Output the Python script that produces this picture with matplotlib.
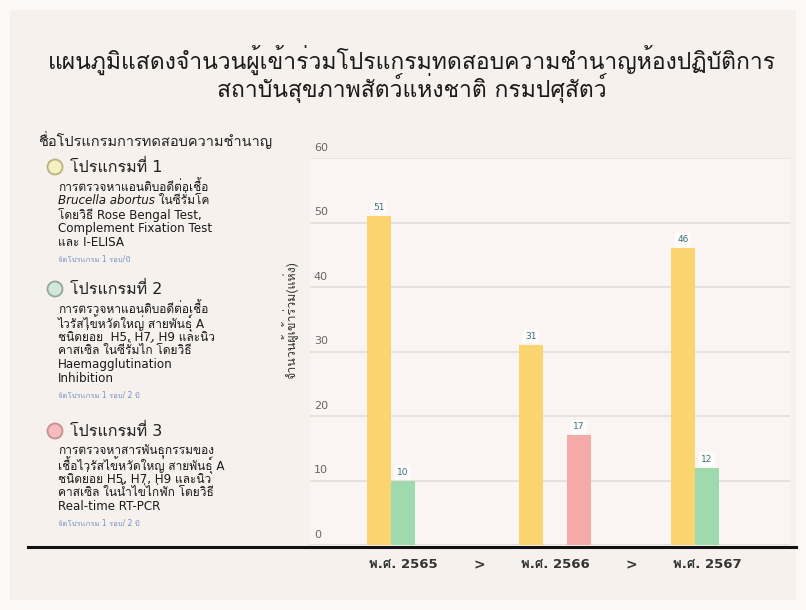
import matplotlib
matplotlib.use("Agg")
import matplotlib.pyplot as plt
import numpy as np
from matplotlib import font_manager
from matplotlib.ft2font import FT2Font
from matplotlib.patches import Circle, Rectangle
from matplotlib.lines import Line2D

# หา font ที่มีอักษรไทย
thai_font = None
for f in font_manager.fontManager.ttflist:
    try:
        if 0x0E01 in FT2Font(f.fname).get_charmap():
            thai_font = f.name
            break
    except Exception:
        pass
thai_first = ([thai_font] if thai_font else []) + ["DejaVu Sans"]
latin_first = ["DejaVu Sans"] + ([thai_font] if thai_font else [])
plt.rcParams["font.family"] = latin_first

# ข้อมูล
years = ["พ.ศ. 2565", "พ.ศ. 2566", "พ.ศ. 2567"]
program1 = [51, 31, 46]
program2 = [10, 0, 12]
program3 = [0, 17, 0]
y_ticks = [0, 10, 20, 30, 40, 50, 60]

prog_titles = ["โปรแกรมที่ 1", "โปรแกรมที่ 2", "โปรแกรมที่ 3"]
prog_desc = [
    ["การตรวจหาแอนติบอดีต่อเชื้อ",
     ("Brucella abortus", " ในซีรั่มโค"),
     "โดยวิธี Rose Bengal Test,",
     "Complement Fixation Test",
     "และ I-ELISA"],
    ["การตรวจหาแอนติบอดีต่อเชื้อ",
     "ไวรัสไข้หวัดใหญ่ สายพันธุ์ A",
     "ชนิดย่อย  H5, H7, H9 และนิว",
     "คาสเซิล ในซีรั่มไก่ โดยวิธี",
     "Haemagglutination",
     "Inhibition"],
    ["การตรวจหาสารพันธุกรรมของ",
     "เชื้อไวรัสไข้หวัดใหญ่ สายพันธุ์ A",
     "ชนิดย่อย H5, H7, H9 และนิว",
     "คาสเซิล ในน้ำไข่ไก่ฟัก โดยวิธี",
     "Real-time RT-PCR"],
]
prog_notes = ["จัดโปรแกรม 1 รอบ/ปี", "จัดโปรแกรม 1 รอบ/ 2 ปี", "จัดโปรแกรม 1 รอบ/ 2 ปี"]

yellow = "#f9d46f"
green = "#9fd9ae"
pink = "#f5a9a9"
marker_fill = ["#f4f0bf", "#d3e8d8", "#f4bcbc"]
marker_edge = ["#b9b27e", "#8fa898", "#c98e8e"]

W, H = 806, 610
fig = plt.figure(figsize=(W / 100, H / 100), dpi=100)
fig.patch.set_facecolor("#fbf9f7")

# overlay ทั้งรูปเป็นพิกัด pixel
ov = fig.add_axes([0, 0, 1, 1], zorder=0)
ov.set_xlim(0, W)
ov.set_ylim(H, 0)
ov.axis("off")
ov.add_patch(Rectangle((10, 10), 786, 590, facecolor="#f6f1ec", edgecolor="none"))

# กราฟแท่ง
ax = fig.add_axes([310 / W, 1 - 545 / H, 480 / W, (545 - 158) / H], zorder=2)
ax.set_facecolor("#fcf8f6")
ax.patch.set_alpha(0.7)
x = np.arange(len(years))
w = 0.158
series = [(program1, yellow, -w), (program2, green, 0), (program3, pink, w)]
for vals, col, off in series:
    bars = ax.bar(x + off, vals, w, color=col, zorder=3)
    for b, v in zip(bars, vals):
        if v > 0:
            ax.text(b.get_x() + b.get_width() / 2, v + 0.6, str(v), ha="center", va="bottom",
                    fontsize=6.5, color="#3f6f78", zorder=4,
                    bbox=dict(boxstyle="round,pad=0.3", fc="white", ec="none", alpha=0.75))
ax.set_xlim(-0.612, 2.546)
ax.set_ylim(0, 60)
for s in ax.spines.values():
    s.set_visible(False)
ax.set_xticks([])
ax.set_yticks([])
for t in y_ticks:
    ax.axhline(t, color="#e4dfdb", lw=1.3, zorder=1)
    ax.text(0.008, t + 0.8, str(t), transform=ax.get_yaxis_transform(), ha="left", va="bottom",
            fontsize=8, color="#666666")
ax.set_ylabel("จำนวนผู้เข้าร่วม(แห่ง)", fontsize=9, color="#333333", labelpad=0,
              family=thai_first)
ax.yaxis.set_label_coords(-0.025, 0.58)

# ป้ายปี และลูกศร
for i, yr in enumerate(years):
    ax.text(i, -3.1, yr, ha="center", va="center", fontsize=9.5, fontweight="bold",
            color="#333333", clip_on=False)
    if i < len(years) - 1:
        ax.text(i + 0.5, -3.1, ">", ha="center", va="center", fontsize=10,
                fontweight="bold", color="#333333", clip_on=False)

# เส้นฐานสีดำ
ov.add_line(Line2D([28, 796], [547, 547], color="#111111", lw=2.2, zorder=5))

# ชื่อกราฟ
ov.text(412, 60, "แผนภูมิแสดงจำนวนผู้เข้าร่วมโปรแกรมทดสอบความชำนาญห้องปฏิบัติการ",
        ha="center", va="center", fontsize=16.5, color="#1a1a1a", family=thai_first)
ov.text(412, 88, "สถาบันสุขภาพสัตว์แห่งชาติ กรมปศุสัตว์",
        ha="center", va="center", fontsize=16.5, color="#1a1a1a", family=thai_first)

# คำอธิบายโปรแกรม
ov.text(38, 140, "ชื่อโปรแกรมการทดสอบความชำนาญ", ha="left", va="center",
        fontsize=10.5, color="#222222")
title_y = [167, 289, 431]
line_gap = 13.8
desc_size = 8.6
renderer = fig.canvas.get_renderer()
inv = ov.transData.inverted()
for k in range(3):
    ty = title_y[k]
    ov.add_patch(Circle((55, ty), 7.5, facecolor=marker_fill[k], edgecolor=marker_edge[k],
                        lw=1.3, zorder=3))
    ov.text(70, ty, prog_titles[k], ha="left", va="center", fontsize=11.5, color="#222222")
    ly = ty + 20
    for line in prog_desc[k]:
        if isinstance(line, tuple):
            t1 = ov.text(58, ly, line[0], ha="left", va="center", fontsize=desc_size,
                         style="italic", color="#1a1a1a")
            bb = t1.get_window_extent(renderer)
            x_end = inv.transform((bb.x1, bb.y0))[0]
            ov.text(x_end, ly, line[1], ha="left", va="center", fontsize=desc_size,
                    color="#1a1a1a")
        else:
            ov.text(58, ly, line, ha="left", va="center", fontsize=desc_size, color="#1a1a1a")
        ly += line_gap
    ov.text(58, ly + 3, prog_notes[k], ha="left", va="center", fontsize=5.5, color="#6f93c6")

fig.savefig("out.png", dpi=100, facecolor=fig.get_facecolor())
